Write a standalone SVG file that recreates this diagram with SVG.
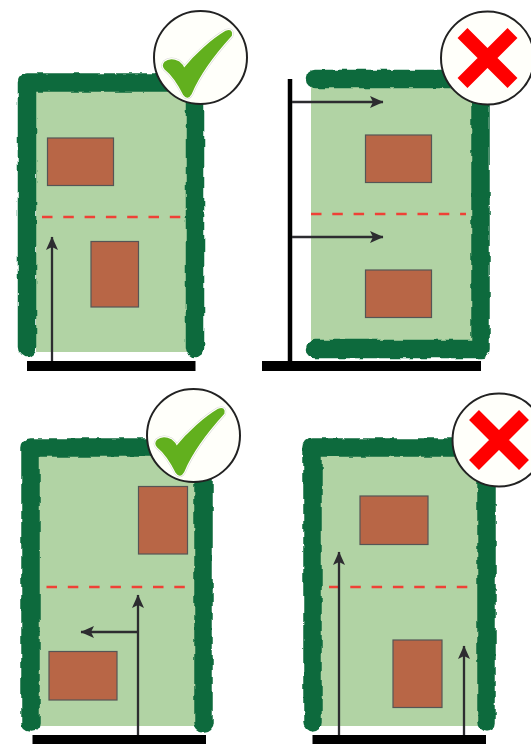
<svg xmlns="http://www.w3.org/2000/svg" width="531" height="744" viewBox="0 0 531 744">
<style>
.lawn{fill:#b1d3a4}
.hedge{fill:none;stroke:#0e6b3c;stroke-width:18.500;stroke-linecap:round;stroke-linejoin:round;filter:url(#rough)}
.house{fill:#b86646;stroke:#555;stroke-width:1.2}
.dash{fill:none;stroke:#ef4136;stroke-width:2.500;stroke-dasharray:10.5 10.8}
.road{fill:#000}
.fence{stroke:#000;stroke-width:4.500;fill:none}
.badge{fill:#fffffa;stroke:#222;stroke-width:2}
.check{fill:#62b01e;stroke:#62b01e;stroke-width:1.800;stroke-linejoin:round}
.checkedge{fill:none;stroke:#d8d8d8;stroke-width:5;stroke-linejoin:round}
.checkedge2{fill:none;stroke:#fffffa;stroke-width:4;stroke-linejoin:round}
.cross{stroke:#f00;stroke-width:14;fill:none}
.arrow{fill:none;stroke:#2d2c30;stroke-width:2.300;marker-end:url(#head)}
</style>
<defs>
<filter id="rough" x="-10%" y="-10%" width="120%" height="120%">
<feTurbulence type="fractalNoise" baseFrequency="0.11" numOctaves="1" seed="4"/>
<feDisplacementMap in="SourceGraphic" scale="5" xChannelSelector="R" yChannelSelector="G"/>
<feGaussianBlur stdDeviation="0.6"/>
</filter>
<marker id="head" markerUnits="userSpaceOnUse" markerWidth="15" markerHeight="13" refX="13" refY="6.500" orient="auto">
<path d="M0,0.5 L13.500,6.500 L0,12.500 L3,6.500 Z" fill="#2d2c30"/>
</marker>
<path id="tick" d="M-35.5,5 Q-30,0.5 -22,4.5 Q-18,7.5 -16.5,11.5 C-5,-3 12,-18 25.5,-26 Q32,-28 30.5,-22 C15,-5 -2,18 -9.5,36 Q-13,42 -16.5,37 C-22,26 -28,17 -35.5,11 Q-38,8 -35.5,5 Z"/>
<g id="checkbadge">
<use href="#tick" class="checkedge"/>
<use href="#tick" class="checkedge2"/>
<use href="#tick" class="check"/>
</g>
</defs>
<rect width="531" height="744" fill="#fff"/>

<g id="plot-1">
<rect class="lawn" x="36" y="90" width="151" height="262"/>
<path class="hedge" d="M27,348 V82.5 H195 V348"/>
<rect class="house" x="47.5" y="138" width="66" height="47.500"/>
<rect class="house" x="91" y="241.500" width="47.500" height="65.500"/>
<path class="dash" d="M42,217 H181"/>
<rect class="road" x="27" y="361" width="168.500" height="10"/>
</g>
<g id="plot-2">
<rect class="lawn" x="311" y="86" width="162" height="257"/>
<path class="hedge" d="M315,79 H480.500 V349 H315"/>
<rect class="house" x="365.500" y="135" width="66" height="47.500"/>
<rect class="house" x="365.500" y="270" width="66" height="47.500"/>
<path class="dash" d="M311,214 H466"/>
<path class="fence" d="M290,79 V362"/>
<rect class="road" x="262" y="361" width="219" height="10"/>
</g>
<g id="plot-3">
<rect class="lawn" x="38" y="455" width="158" height="271"/>
<path class="hedge" d="M30.500,722.500 V447.500 H203.500 V722.500"/>
<rect class="house" x="138.500" y="486.500" width="49" height="67.500"/>
<rect class="house" x="49" y="651.500" width="68" height="48.500"/>
<path class="dash" d="M46.500,587 H188"/>
<rect class="road" x="32.500" y="735" width="173.500" height="9"/>
</g>
<g id="plot-4">
<rect class="lawn" x="320" y="455" width="159" height="271"/>
<path class="hedge" d="M312.500,722.500 V447.500 H486.500 V722.500"/>
<rect class="house" x="360" y="496" width="68" height="48.500"/>
<rect class="house" x="393" y="640" width="49" height="67.500"/>
<path class="dash" d="M329,587 H471"/>
<rect class="road" x="312.500" y="735" width="173.500" height="9"/>
</g>

<g id="connectors">
<path class="arrow" d="M52,361 V237"/>
<path class="arrow" d="M292,102 H383"/>
<path class="arrow" d="M292,237 H383"/>
<path class="arrow" d="M138,735 V595"/>
<path class="arrow" d="M138,632 H81"/>
<path class="arrow" d="M339,735 V552"/>
<path class="arrow" d="M464,735 V646"/>
</g>

<g id="badge-1">
<circle class="badge" cx="200.500" cy="57.500" r="46.500"/>
<use href="#checkbadge" x="200.500" y="57.500"/>
</g>
<g id="badge-2">
<circle class="badge" cx="487.500" cy="58" r="46.500"/>
<path class="cross" d="M462.500,33 L512.500,83 M512.500,33 L462.500,83"/>
</g>
<g id="badge-3">
<circle class="badge" cx="193.500" cy="435.500" r="46.500"/>
<use href="#checkbadge" x="193" y="435.500"/>
</g>
<g id="badge-4">
<circle class="badge" cx="499" cy="440" r="46.500"/>
<path class="cross" d="M474,415 L524,465 M524,415 L474,465"/>
</g>
</svg>
